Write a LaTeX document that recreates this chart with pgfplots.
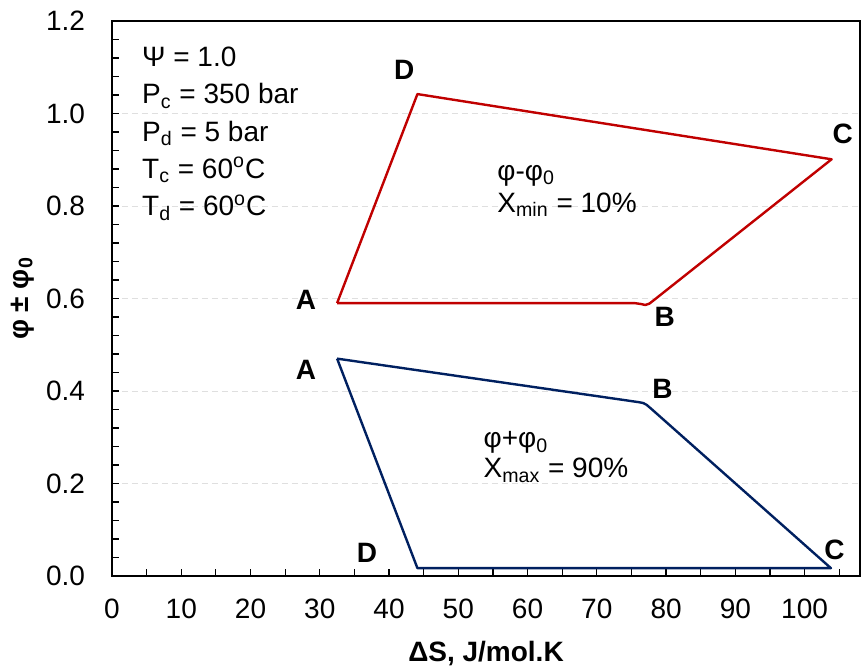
\documentclass[border=0pt]{standalone}
\usepackage{fontspec}
\setmainfont{Liberation Sans}
\usepackage{pgfplots}
\pgfplotsset{compat=1.18}
\definecolor{redl}{HTML}{C00000}
\definecolor{bluel}{HTML}{002060}
\newcommand\ff{\fontsize{14}{16.8}\selectfont}
\begin{document}
\begin{tikzpicture}
\path[use as bounding box] (-56pt,-45pt) rectangle (376pt,288pt);
\begin{axis}[
  scale only axis, width=374pt, height=277.5pt,
  xmin=0, xmax=108, ymin=0, ymax=1.2,
  xtick={0,10,...,100}, minor xtick={5,15,...,105},
  ytick={0,0.2,0.4,0.6,0.8,1.0,1.2},
  minor ytick={0.04,0.08,0.12,0.16,0.24,0.28,0.32,0.36,0.44,0.48,0.52,0.56,0.64,0.68,0.72,0.76,0.84,0.88,0.92,0.96,1.04,1.08,1.12,1.16},
  tick align=inside, major tick length=3.5pt, minor tick length=3.5pt,
  xtick pos=bottom, ytick pos=left,
  axis line style={line width=1pt, black},
  every tick/.style={black, line width=0.6pt},
  ymajorgrids, major grid style={densely dashed, gray!25, line width=0.5pt},
  tick label style={font=\ff},
  /pgf/number format/assume math mode=true,
  yticklabel style={/pgf/number format/fixed, /pgf/number format/fixed zerofill, /pgf/number format/precision=1, xshift=-10pt},
  xticklabel style={yshift=-8pt},
  xlabel={ΔS, J/mol.K},
  ylabel={φ ± φ\textsubscript{0}},
  label style={font=\ff\bfseries},
  xlabel style={at={(axis description cs:0.5,-0.139)}, anchor=center},
  ylabel style={at={(axis description cs:-0.12,0.5)}, anchor=center, rotate=0},
  clip=false,
]
% phi - phi0 (red)
\addplot[redl, line width=1.2pt, line join=round] coordinates {
 (32.5,0.590) (75.5,0.590) (76.4,0.588) (77.0,0.586) (77.6,0.589) (78.2,0.596)
 (103.9,0.901) (44.1,1.042) (32.5,0.590)};
% phi + phi0 (blue)
\addplot[bluel, line width=1.2pt, line join=round] coordinates {
 (32.5,0.470) (76.0,0.376) (76.7,0.374) (77.2,0.370) (77.9,0.361)
 (103.8,0.017) (44.1,0.017) (32.5,0.470)};

\tikzset{lab/.style={font=\ff\bfseries, inner sep=0pt, anchor=center}}
\node[lab] at (axis cs:28.0,0.598) {A};
\node[lab] at (axis cs:28.0,0.446) {A};
\node[lab] at (axis cs:42.2,1.094) {D};
\node[lab] at (axis cs:79.8,0.561) {B};
\node[lab] at (axis cs:79.5,0.405) {B};
\node[lab] at (axis cs:105.5,0.957) {C};
\node[lab] at (axis cs:104.3,0.056) {C};
\node[lab] at (axis cs:36.8,0.050) {D};

\tikzset{txt/.style={font=\ff, inner sep=0pt, anchor=base west}}
\node[txt] at (axis cs:4.3,1.102) {Ψ = 1.0};
\node[txt] at (axis cs:4.3,1.021) {P\textsubscript{c} = 350 bar};
\node[txt] at (axis cs:4.3,0.940) {P\textsubscript{d} = 5 bar};
\node[txt] at (axis cs:4.3,0.860) {T\textsubscript{c} = 60\textsuperscript{o}C};
\node[txt] at (axis cs:4.3,0.779) {T\textsubscript{d} = 60\textsuperscript{o}C};

\node[txt] at (axis cs:55.6,0.8555) {φ-φ\textsubscript{0}};
\node[txt] at (axis cs:55.6,0.786) {X\textsubscript{min} = 10\%};
\node[txt] at (axis cs:53.6,0.277) {φ+φ\textsubscript{0}};
\node[txt] at (axis cs:53.6,0.212) {X\textsubscript{max} = 90\%};
\end{axis}
\end{tikzpicture}
\end{document}
